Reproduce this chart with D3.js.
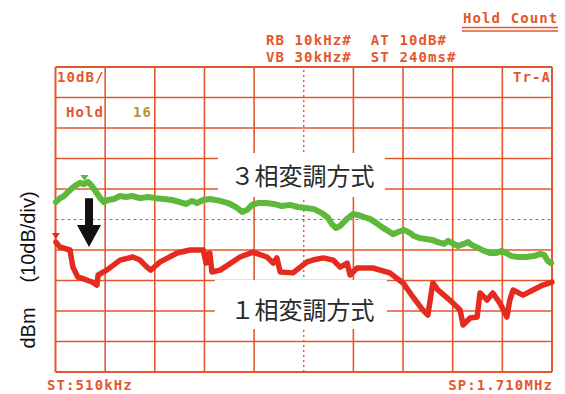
<!DOCTYPE html>
<html>
<head>
<meta charset="utf-8">
<script src="https://cdn.jsdelivr.net/npm/d3@7"></script>
<style>
  html, body { margin: 0; padding: 0; background: #fff; }
  svg { display: block; }
  .inst { font-family: "DejaVu Sans Mono", monospace; font-size: 14px; font-weight: bold; letter-spacing: 1.1px; fill: #e4572e; }
  .jp { font-family: "Noto Sans CJK JP", sans-serif; font-size: 24px; font-weight: 400; fill: #2a2a2a; }
  .ylab { font-family: "Liberation Sans", Arial, sans-serif; font-size: 20px; fill: #111; }
</style>
</head>
<body>
<script>
// Sweep span (kHz) and display range (dBm, 10 dB/div)
const freqRange = [510, 1710];
const levelRange = [-100, 0];

// Max-hold trace, three-phase modulation: [frequency kHz, level dBm]
const threePhase = [
  [511,-44.3],[521,-43.0],[531,-42.3],[540,-41.0],[550,-39.7],[560,-38.7],[569,-38.0],[579,-38.4],
  [589,-37.7],[598,-39.0],[608,-41.0],[618,-43.0],[627,-44.3],[637,-43.6],[651,-43.3],[666,-42.3],
  [680,-42.6],[695,-42.3],[714,-43.0],[734,-42.6],[753,-43.0],[772,-43.3],[792,-43.6],[811,-44.3],
  [825,-44.9],[840,-43.9],[852,-44.6],[867,-43.6],[883,-43.3],[908,-43.9],[927,-44.6],[946,-45.9],
  [961,-47.5],[973,-46.9],[985,-45.2],[999,-44.6],[1019,-44.6],[1038,-44.9],[1057,-45.6],[1077,-45.2],
  [1096,-45.9],[1115,-46.2],[1135,-46.6],[1154,-47.9],[1169,-49.5],[1178,-51.5],[1188,-52.8],[1198,-52.1],
  [1207,-50.8],[1217,-49.5],[1229,-48.2],[1241,-48.5],[1256,-49.2],[1270,-49.8],[1285,-51.1],[1299,-52.5],
  [1314,-53.8],[1326,-54.8],[1338,-54.1],[1352,-53.4],[1367,-54.4],[1376,-55.4],[1391,-56.1],[1405,-56.4],
  [1420,-56.7],[1434,-57.4],[1449,-58.0],[1459,-57.0],[1468,-57.7],[1483,-58.7],[1497,-58.0],[1507,-57.4],
  [1517,-58.4],[1531,-59.3],[1546,-60.3],[1560,-61.0],[1575,-61.0],[1589,-60.3],[1599,-61.0],[1613,-62.0],
  [1628,-62.3],[1647,-62.3],[1666,-62.0],[1681,-61.3],[1691,-61.6],[1700,-63.6],[1708,-64.3]
];

// Max-hold trace, single-phase modulation: [frequency kHz, level dBm]
const singlePhase = [
  [511,-57.4],[520,-59.0],[545,-60.0],[552,-65.6],[564,-68.9],[579,-69.5],[598,-70.5],[610,-71.5],[613,-68.2],
  [634,-66.6],[666,-63.3],[697,-62.3],[714,-63.3],[731,-65.6],[740,-66.6],[746,-65.9],[763,-63.9],
  [804,-61.0],[835,-60.0],[867,-60.0],[874,-64.3],[878,-61.3],[883,-61.0],[888,-67.2],[908,-66.6],
  [956,-62.3],[987,-60.7],[1021,-62.3],[1036,-64.3],[1045,-62.6],[1053,-67.2],[1084,-67.5],[1118,-63.9],
  [1132,-63.3],[1157,-62.6],[1181,-63.3],[1198,-65.6],[1215,-64.3],[1222,-68.2],[1239,-65.9],[1277,-65.9],
  [1318,-67.5],[1350,-70.8],[1374,-75.4],[1398,-79.7],[1410,-81.3],[1422,-70.8],[1434,-73.1],[1463,-76.4],
  [1488,-79.7],[1495,-84.6],[1512,-82.3],[1529,-82.0],[1536,-74.1],[1553,-76.4],[1567,-74.1],[1584,-77.4],
  [1601,-82.0],[1608,-76.4],[1616,-73.1],[1640,-74.8],[1664,-73.1],[1688,-71.5],[1710,-70.5]
];

// Marker positions [frequency kHz, level dBm]
const markers = [
  { pos: [580, -37.4], color: "#5db83c" },
  { pos: [511, -56.4], color: "#e52a1f" }
];

// Trace labels: text, centre [kHz, dBm], white backing box span in kHz and dBm
const labels = [
  { text: "３相変調方式", freq: 1107, level: -35.4, span: [903, 1306], box: [-42.6, -28.2] },
  { text: "１相変調方式", freq: 1107, level: -79.3, span: [895, 1311], box: [-85.9, -69.8] }
];

// Settings readout
const headerLines = ["RB 10kHz#  AT 10dB#", "VB 30kHz#  ST 240ms#"];
const startLabel = "ST:510kHz";
const stopLabel = "SP:1.710MHz";

const W = 565, H = 394;
const gridColor = "#e4572e";

const svg = d3.select("body").append("svg").attr("width", W).attr("height", H);

const x = d3.scaleLinear().domain(freqRange).range([55.5, 552]);
const y = d3.scaleLinear().domain(levelRange).range([372, 67]);

const xDivs = d3.range(freqRange[0], freqRange[1] + 1, 120);
const yDivs = d3.range(levelRange[0], levelRange[1] + 1, 10);

// graticule
const grid = svg.append("g").attr("stroke", gridColor).attr("fill", "none");
xDivs.forEach((f, i) => {
  grid.append("line")
    .attr("x1", x(f)).attr("x2", x(f)).attr("y1", y(levelRange[0])).attr("y2", y(levelRange[1]))
    .attr("stroke-dasharray", i === 5 ? "2,3" : null)
    .attr("stroke-width", i === 5 ? 1.4 : (i === 0 || i === 10 ? 2 : 1.6));
});
yDivs.forEach((v, i) => {
  grid.append("line")
    .attr("y1", y(v)).attr("y2", y(v)).attr("x1", x(freqRange[0])).attr("x2", x(freqRange[1]))
    .attr("stroke-dasharray", i === 5 ? "3,3" : null)
    .attr("stroke-width", i === 5 ? 1.2 : (i === 0 || i === 10 ? 2 : 1.6));
});

// label backgrounds mask the graticule
labels.forEach(d => {
  svg.append("rect")
    .attr("x", x(d.span[0])).attr("width", x(d.span[1]) - x(d.span[0]))
    .attr("y", y(d.box[1])).attr("height", y(d.box[0]) - y(d.box[1]))
    .attr("fill", "#fff");
});

// traces
const line = d3.line().x(d => x(d[0])).y(d => y(d[1])).curve(d3.curveLinear);
svg.append("path").datum(threePhase).attr("d", line)
  .attr("fill", "none").attr("stroke", "#5db83c").attr("stroke-width", 6)
  .attr("stroke-linejoin", "round").attr("stroke-linecap", "round");
svg.append("path").datum(singlePhase).attr("d", line)
  .attr("fill", "none").attr("stroke", "#e52a1f").attr("stroke-width", 5.5)
  .attr("stroke-linejoin", "round").attr("stroke-linecap", "round");

// markers
markers.forEach(m => {
  const mx = x(m.pos[0]), my = y(m.pos[1]);
  svg.append("path")
    .attr("d", `M${mx - 4},${my - 6}L${mx + 4},${my - 6}L${mx},${my}Z`)
    .attr("fill", m.color);
});

// arrow showing the level drop
const ax = x(591), aTop = y(-43.0), aNeck = y(-51.8), aTip = y(-59.0);
svg.append("path")
  .attr("d", `M${ax - 4},${aTop}L${ax + 4},${aTop}L${ax + 4},${aNeck}L${ax + 12},${aNeck}L${ax},${aTip}L${ax - 12},${aNeck}L${ax - 4},${aNeck}Z`)
  .attr("fill", "#111");

// trace labels
labels.forEach(d => {
  svg.append("text").attr("class", "jp")
    .attr("x", x(d.freq)).attr("y", y(d.level))
    .attr("text-anchor", "middle").attr("dominant-baseline", "central")
    .text(d.text);
});

// instrument readouts
svg.append("text").attr("class", "inst").attr("x", 463).attr("y", 23).text("Hold Count");
svg.append("line").attr("x1", 462).attr("x2", 558).attr("y1", 27.5).attr("y2", 27.5).attr("stroke", gridColor).attr("stroke-width", 1.3);
svg.append("line").attr("x1", 462).attr("x2", 558).attr("y1", 31).attr("y2", 31).attr("stroke", gridColor).attr("stroke-width", 1.3);
headerLines.forEach((t, i) => {
  svg.append("text").attr("class", "inst").attr("x", 266).attr("y", 45 + i * 17)
    .style("white-space", "pre").text(t);
});
svg.append("text").attr("class", "inst").attr("x", 57).attr("y", 82).text("10dB/");
svg.append("text").attr("class", "inst").attr("x", 551).attr("y", 82).attr("text-anchor", "end").text("Tr-A");
svg.append("text").attr("class", "inst").attr("x", 66).attr("y", 117).text("Hold");
svg.append("text").attr("class", "inst").attr("x", 133).attr("y", 117).style("fill", "#b9923a").text("16");
svg.append("text").attr("class", "inst").attr("x", 47).attr("y", 390).text(startLabel);
svg.append("text").attr("class", "inst").attr("x", 553).attr("y", 390).attr("text-anchor", "end").text(stopLabel);

// vertical axis caption
svg.append("text").attr("class", "ylab")
  .attr("transform", "translate(35,328) rotate(-90)").attr("text-anchor", "middle").text("dBm");
svg.append("text").attr("class", "ylab")
  .attr("transform", "translate(35,237) rotate(-90)").attr("text-anchor", "middle").text("(10dB/div)");
</script>
</body>
</html>
